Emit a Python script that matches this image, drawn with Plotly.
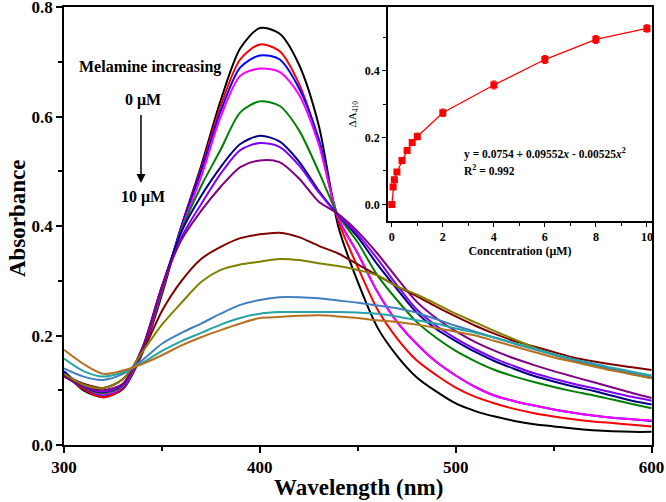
import plotly.graph_objects as go

wavelength = [300, 310, 320, 330, 340, 350, 360, 370, 380, 390, 400, 410, 420, 430, 440, 450,
              460, 470, 480, 490, 500, 510, 520, 530, 540, 550, 560, 570, 580, 590, 600]

abs_black = [0.134, 0.100, 0.088, 0.102, 0.168, 0.275, 0.400, 0.510, 0.630, 0.725, 0.762, 0.752, 0.695, 0.585, 0.400, 0.298,
             0.215, 0.163, 0.124, 0.098, 0.076, 0.062, 0.052, 0.044, 0.038, 0.034, 0.030, 0.027, 0.025, 0.024, 0.024]
abs_red = [0.130, 0.102, 0.087, 0.103, 0.170, 0.280, 0.400, 0.505, 0.620, 0.705, 0.732, 0.720, 0.660, 0.555, 0.410, 0.325,
           0.248, 0.195, 0.155, 0.128, 0.105, 0.088, 0.076, 0.066, 0.058, 0.052, 0.047, 0.043, 0.040, 0.037, 0.034]
abs_blue = [0.135, 0.105, 0.092, 0.105, 0.172, 0.283, 0.400, 0.500, 0.610, 0.690, 0.712, 0.705, 0.652, 0.560, 0.415, 0.350,
            0.280, 0.225, 0.185, 0.152, 0.127, 0.106, 0.090, 0.080, 0.072, 0.065, 0.059, 0.054, 0.050, 0.047, 0.044]
abs_magenta = [0.130, 0.105, 0.093, 0.106, 0.172, 0.283, 0.395, 0.490, 0.600, 0.675, 0.688, 0.682, 0.640, 0.550, 0.415, 0.350,
               0.280, 0.225, 0.185, 0.152, 0.127, 0.106, 0.090, 0.080, 0.072, 0.065, 0.059, 0.054, 0.050, 0.047, 0.045]
abs_green = [0.128, 0.105, 0.095, 0.108, 0.175, 0.285, 0.393, 0.473, 0.540, 0.608, 0.628, 0.620, 0.575, 0.500, 0.420, 0.370,
             0.310, 0.265, 0.225, 0.196, 0.172, 0.153, 0.137, 0.125, 0.115, 0.106, 0.098, 0.091, 0.083, 0.075, 0.067]
abs_navy = [0.130, 0.106, 0.097, 0.110, 0.176, 0.290, 0.390, 0.455, 0.508, 0.550, 0.565, 0.555, 0.518, 0.465, 0.420, 0.380,
            0.330, 0.285, 0.242, 0.212, 0.190, 0.170, 0.153, 0.139, 0.126, 0.116, 0.107, 0.099, 0.090, 0.081, 0.074]
abs_violet = [0.127, 0.106, 0.098, 0.110, 0.176, 0.288, 0.380, 0.440, 0.496, 0.539, 0.552, 0.545, 0.511, 0.462, 0.420, 0.385,
              0.340, 0.292, 0.248, 0.218, 0.195, 0.175, 0.158, 0.144, 0.131, 0.121, 0.112, 0.104, 0.096, 0.088, 0.081]
abs_purple = [0.125, 0.107, 0.100, 0.112, 0.178, 0.290, 0.375, 0.428, 0.472, 0.508, 0.520, 0.517, 0.487, 0.445, 0.422, 0.390,
              0.350, 0.305, 0.262, 0.232, 0.208, 0.188, 0.172, 0.158, 0.146, 0.135, 0.125, 0.115, 0.105, 0.095, 0.086]
abs_maroon = [0.128, 0.112, 0.104, 0.120, 0.170, 0.245, 0.300, 0.340, 0.362, 0.378, 0.385, 0.388, 0.380, 0.364, 0.350, 0.330,
              0.310, 0.290, 0.272, 0.253, 0.235, 0.218, 0.203, 0.190, 0.180, 0.170, 0.160, 0.153, 0.147, 0.142, 0.137]
abs_olive = [0.130, 0.110, 0.104, 0.120, 0.170, 0.220, 0.260, 0.298, 0.320, 0.330, 0.335, 0.340, 0.338, 0.332, 0.327, 0.320,
             0.310, 0.290, 0.275, 0.258, 0.240, 0.224, 0.208, 0.193, 0.178, 0.165, 0.155, 0.147, 0.138, 0.130, 0.122]
abs_steel = [0.140, 0.125, 0.119, 0.130, 0.155, 0.185, 0.205, 0.222, 0.240, 0.256, 0.265, 0.270, 0.270, 0.268, 0.264, 0.260,
             0.255, 0.250, 0.242, 0.230, 0.218, 0.207, 0.196, 0.185, 0.175, 0.165, 0.155, 0.147, 0.139, 0.131, 0.124]
abs_teal = [0.158, 0.135, 0.125, 0.133, 0.150, 0.172, 0.190, 0.205, 0.220, 0.232, 0.240, 0.243, 0.243, 0.243, 0.243, 0.242,
            0.240, 0.235, 0.228, 0.222, 0.213, 0.205, 0.196, 0.186, 0.176, 0.166, 0.157, 0.149, 0.141, 0.134, 0.127]
abs_brown = [0.174, 0.148, 0.130, 0.136, 0.148, 0.164, 0.182, 0.197, 0.210, 0.222, 0.232, 0.234, 0.236, 0.237, 0.235, 0.232,
             0.228, 0.225, 0.220, 0.214, 0.207, 0.200, 0.190, 0.180, 0.170, 0.160, 0.152, 0.144, 0.136, 0.129, 0.122]

series = [
    (abs_black, "#000000"), (abs_red, "#FF0000"), (abs_blue, "#0000FF"), (abs_magenta, "#FF00FF"),
    (abs_green, "#008000"), (abs_navy, "#000080"), (abs_violet, "#8000FF"), (abs_purple, "#800080"),
    (abs_maroon, "#800000"), (abs_olive, "#808000"), (abs_steel, "#3F7FBF"), (abs_teal, "#26A3A6"),
    (abs_brown, "#B5701F"),
]

conc = [0, 0.05, 0.1, 0.2, 0.4, 0.6, 0.8, 1, 2, 4, 6, 8, 10]
delta_a = [0.0, 0.052, 0.074, 0.097, 0.131, 0.161, 0.185, 0.203, 0.274, 0.357, 0.433, 0.493, 0.526]
delta_err = [0.004, 0.006, 0.007, 0.007, 0.009, 0.008, 0.009, 0.010, 0.011, 0.012, 0.012, 0.012, 0.011]

FONT = "Liberation Serif"

fig = go.Figure()
for ys, col in series:
    fig.add_trace(go.Scatter(x=wavelength, y=ys, mode="lines",
                             line=dict(color=col, width=2, shape="spline", smoothing=0.8),
                             showlegend=False, xaxis="x", yaxis="y"))

fig.add_trace(go.Scatter(x=conc, y=delta_a, mode="lines+markers",
                         line=dict(color="#FF0000", width=1.3),
                         marker=dict(symbol="square", size=7, color="#FF0000"),
                         error_y=dict(type="data", array=delta_err, color="#FF0000", thickness=1, width=2),
                         showlegend=False, xaxis="x2", yaxis="y2"))

axis_common = dict(showline=True, linecolor="black", linewidth=1.5, mirror=True, automargin=False,
                   showgrid=False, zeroline=False, ticks="outside", tickcolor="black",
                   ticklabeloverflow="allow")

fig.update_layout(
    width=666, height=502,
    margin=dict(l=64, r=14, t=7, b=57),
    paper_bgcolor="white", plot_bgcolor="white",
    font=dict(family=FONT, color="black"),
    xaxis=dict(**axis_common, range=[300, 600.2], tickvals=[300, 400, 500, 600], ticklen=6, tickwidth=1.5,
               minor=dict(tickvals=[350, 450, 550], ticklen=4, tickcolor="black", ticks="outside", tickwidth=1.5),
               tickfont=dict(family=FONT, size=17, weight="bold")),
    yaxis=dict(**axis_common, range=[0, 0.8005], tickvals=[0, 0.2, 0.4, 0.6, 0.8], ticktext=["0.0", "0.2", "0.4", "0.6", "0.8"],
               ticklen=6, tickwidth=1.5,
               minor=dict(tickvals=[0.1, 0.3, 0.5, 0.7], ticklen=4, tickcolor="black", ticks="outside", tickwidth=1.5),
               tickfont=dict(family=FONT, size=17, weight="bold")),
    xaxis2=dict(**axis_common, domain=[0.551, 1.0], anchor="y2", range=[-0.15, 10.2],
                tickvals=[0, 2, 4, 6, 8, 10], ticklen=4, tickwidth=1.2,
                minor=dict(tickvals=[1, 3, 5, 7, 9], ticklen=3, tickcolor="black", ticks="outside", tickwidth=1.2),
                tickfont=dict(family=FONT, size=12, weight="bold"),
                title=dict(text="<b>Concentration (μM)</b>", font=dict(family=FONT, size=12), standoff=2)),
    yaxis2=dict(**axis_common, domain=[0.511, 1.0], anchor="x2", range=[-0.05, 0.59],
                tickvals=[0, 0.2, 0.4], ticktext=["0.0", "0.2", "0.4"], ticklen=4, tickwidth=1.2,
                minor=dict(tickvals=[0.1, 0.3, 0.5], ticklen=3, tickcolor="black", ticks="outside", tickwidth=1.2),
                tickfont=dict(family=FONT, size=12, weight="bold"),
                title=dict(text="ΔA<sub>410</sub>", font=dict(family=FONT, size=11), standoff=6)),
)

# main axis titles
fig.add_annotation(x=-0.08, y=0.518, xref="paper", yref="paper", text="<b>Absorbance</b>", textangle=-90,
                   showarrow=False, xanchor="center", yanchor="middle", font=dict(family=FONT, size=23, color="black"))
fig.add_annotation(x=0.5, y=-0.098, xref="paper", yref="paper", text="<b>Wavelength (nm)</b>",
                   showarrow=False, xanchor="center", yanchor="middle", font=dict(family=FONT, size=23, color="black"))

fig.add_annotation(x=343.9, y=0.690, xref="x", yref="y", text="<b>Melamine increasing</b>",
                   showarrow=False, font=dict(family=FONT, size=16, color="black"))
fig.add_annotation(x=340.3, y=0.630, xref="x", yref="y", text="<b>0 μM</b>",
                   showarrow=False, font=dict(family=FONT, size=16, color="black"))
fig.add_annotation(x=340.3, y=0.453, xref="x", yref="y", text="<b>10 μM</b>",
                   showarrow=False, font=dict(family=FONT, size=16, color="black"))
fig.add_annotation(x=339.3, y=0.479, ax=339.3, ay=0.606, xref="x", yref="y", axref="x", ayref="y",
                   text="", showarrow=True, arrowhead=2, arrowsize=1.2, arrowwidth=1.5, arrowcolor="black")

fig.add_annotation(x=2.75, y=0.152, xref="x2", yref="y2", xanchor="left",
                   text="<b>y = 0.0754 + 0.09552<i>x</i> - 0.00525<i>x</i><sup>2</sup></b>",
                   showarrow=False, font=dict(family=FONT, size=11.5, color="black"))
fig.add_annotation(x=2.75, y=0.104, xref="x2", yref="y2", xanchor="left",
                   text="<b>R<sup>2</sup> = 0.992</b>",
                   showarrow=False, font=dict(family=FONT, size=11.5, color="black"))

fig.write_html("out.html", config={"displayModeBar": False},
               post_script="document.body.style.margin='0';document.body.style.overflow='hidden';")
